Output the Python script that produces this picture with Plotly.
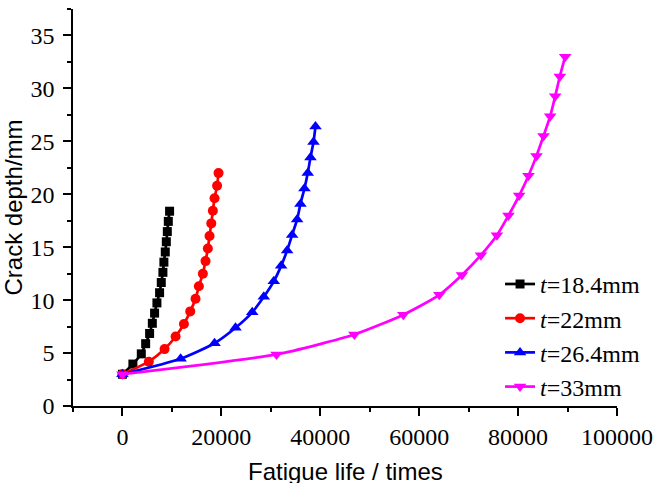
import plotly.graph_objects as go

# Crack depth (mm) for each plate thickness, 17 points each
depth_184 = [3.0, 3.9625, 4.925, 5.8875, 6.85, 7.8125, 8.775, 9.7375, 10.7,
             11.6625, 12.625, 13.5875, 14.55, 15.5125, 16.475, 17.4375, 18.4]
life_184 = [0, 2110, 3810, 4690, 5490, 6040, 6500, 6970, 7510,
            7850, 8180, 8380, 8660, 8870, 9070, 9270, 9530]

depth_22 = [3.0, 4.1875, 5.375, 6.5625, 7.75, 8.9375, 10.125, 11.3125, 12.5,
            13.6875, 14.875, 16.0625, 17.25, 18.4375, 19.625, 20.8125, 22.0]
life_22 = [0, 5330, 8520, 10750, 12430, 13710, 14780, 15450, 16260,
           16800, 17270, 17610, 17960, 18280, 18620, 19130, 19430]

depth_264 = [3.0, 4.4625, 5.925, 7.3875, 8.85, 10.3125, 11.775, 13.2375, 14.7,
             16.1625, 17.625, 19.0875, 20.55, 22.0125, 23.475, 24.9375, 26.4]
life_264 = [0, 11760, 18620, 22860, 26240, 28580, 30600, 32090, 33300,
            34310, 35320, 35990, 36800, 37470, 38020, 38630, 39030]

depth_33 = [3.0, 4.875, 6.75, 8.625, 10.5, 12.375, 14.25, 16.125, 18.0,
            19.875, 21.75, 23.625, 25.5, 27.375, 29.25, 31.125, 33.0]
life_33 = [0, 31150, 46900, 56800, 64070, 68650, 72490, 75720, 78060,
           80220, 82100, 83720, 85140, 86490, 87500, 88440, 89520]

x_tickvals = [0, 20000, 40000, 60000, 80000, 100000]
x_ticktext = ["0", "20000", "40000", "60000", "80000", "100000"]
y_tickvals = [0, 5, 10, 15, 20, 25, 30, 35]
y_ticktext = ["0", "5", "10", "15", "20", "25", "30", "35"]

names = ["<i>t</i>=18.4mm", "<i>t</i>=22mm", "<i>t</i>=26.4mm", "<i>t</i>=33mm"]
colors = ["#000000", "#ff0000", "#0000ff", "#ff00ff"]
symbols = ["square", "circle", "triangle-up", "triangle-down"]
sizes = [9, 10, 11, 11]

xs = [life_184, life_22, life_264, life_33]
ys = [depth_184, depth_22, depth_264, depth_33]

fig = go.Figure()
for x, y, n, c, s, sz in zip(xs, ys, names, colors, symbols, sizes):
    fig.add_trace(go.Scatter(
        x=x, y=y, name=n, mode="lines+markers",
        line=dict(color=c, width=2.7, shape="spline", smoothing=0.6),
        marker=dict(color=c, symbol=s, size=sz, line=dict(width=0)),
        cliponaxis=False,
    ))

SERIF = "Liberation Serif"
SANS = "Liberation Sans"
title_font = dict(family=SANS, size=24, color="#000")
tick_font = dict(family=SERIF, size=24, color="#000")

fig.update_layout(
    template="none",
    font=dict(family=SERIF, size=24, color="#000"),
    width=657, height=483,
    margin=dict(l=73, r=40, t=9, b=77, autoexpand=False),
    paper_bgcolor="white", plot_bgcolor="white",
    showlegend=True,
    legend=dict(
        x=0.785, y=0.363, xanchor="left", yanchor="top",
        font=dict(family=SERIF, size=24, color="#000"),
        bgcolor="rgba(0,0,0,0)", borderwidth=0, tracegroupgap=0,
    ),
    xaxis=dict(
        automargin=False,
        range=[-10000, 100000], tickmode="array",
        tickvals=x_tickvals, ticktext=x_ticktext,
        showgrid=False, zeroline=False, showline=True, linecolor="#000", linewidth=1.5,
        ticks="outside", ticklen=8, tickwidth=1.5, tickcolor="#000",
        tickfont=tick_font, ticklabeloverflow="allow",
        minor=dict(ticks="outside", ticklen=4, tickwidth=1.5, tickcolor="#000",
                   tick0=-10000, dtick=10000, showgrid=False),
    ),
    yaxis=dict(
        automargin=False,
        range=[0, 37.5], tickmode="array",
        tickvals=y_tickvals, ticktext=y_ticktext,
        showgrid=False, zeroline=False, showline=True, linecolor="#000", linewidth=1.5,
        ticks="outside", ticklen=8, tickwidth=1.5, tickcolor="#000",
        tickfont=tick_font, ticklabelstandoff=4,
        minor=dict(ticks="outside", ticklen=4, tickwidth=1.5, tickcolor="#000",
                   tick0=0, dtick=2.5, showgrid=False),
        title=dict(text="Crack depth/mm", font=title_font, standoff=2),
    ),
    annotations=[dict(
        text="Fatigue life / times", xref="paper", yref="paper",
        x=0.5, y=-0.165, xanchor="center", yanchor="middle",
        showarrow=False, font=title_font,
    )],
)

fig.write_html("out.html", config={"displayModeBar": False},
               post_script="document.body.style.margin='0';")
